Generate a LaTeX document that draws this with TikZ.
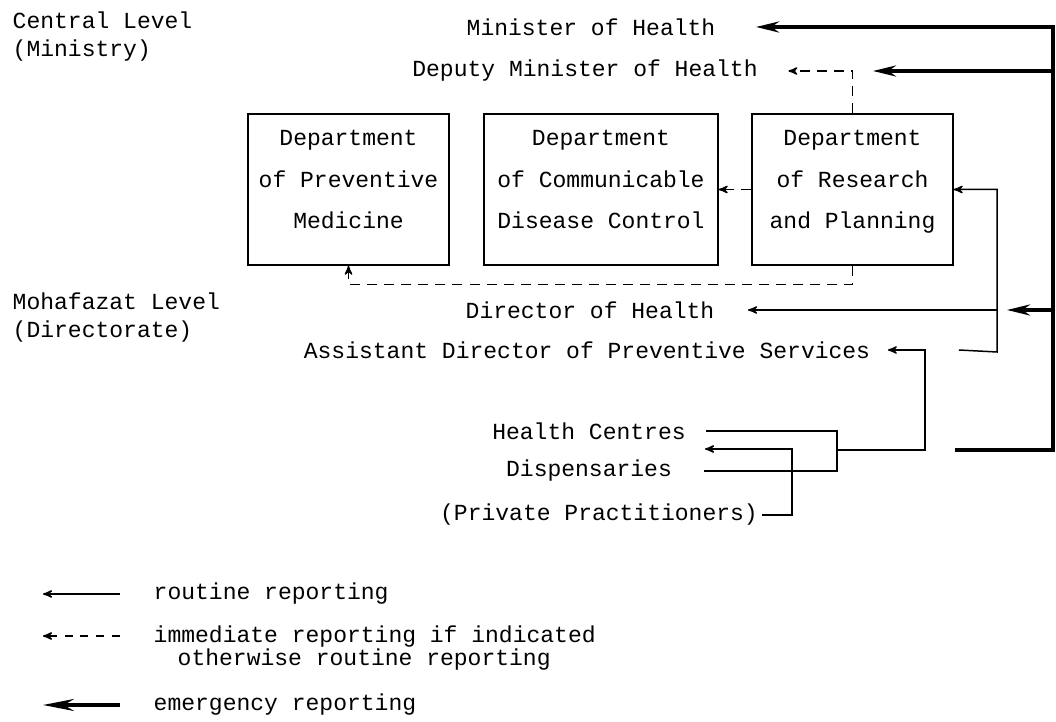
\documentclass[tikz,border=0pt]{standalone}
\usepackage{fontspec}
\setmainfont{Liberation Mono}
\usetikzlibrary{arrows,arrows.meta,positioning}

\begin{document}
\begin{tikzpicture}[x=0.02cm, y=-0.02cm, >=stealth', line width=0.85pt,
    every node/.style={font=\fontsize{13.1}{15.9}\selectfont},
    txt/.style={inner sep=0pt},
    dept/.style={draw, minimum width=4.02cm, minimum height=3.02cm, align=center,
        inner sep=0pt, text depth=0.4cm, font=\fontsize{13.1}{23.8}\selectfont},
    routine/.style={->},
    immed/.style={->, dash pattern=on 5.7pt off 4pt},
    emerg/.style={line width=2pt, -{Stealth[length=0.46cm,width=0.22cm]}}]
    \useasboundingbox (0,0) rectangle (1056,722);

    % Levels
    \node [txt, anchor=west, align=left] (central)   at (12,37)  {Central Level\\(Ministry)};
    \node [txt, anchor=west, align=left] (mohafazat) at (12,318) {Mohafazat Level\\(Directorate)};

    % Nodes {minister, deputy, departments, director, ...}
    \node [txt]  (minister)     at (591,27)      {Minister of Health};
    \node [txt]  (deputy)       at (585,71)      {Deputy Minister of Health};
    \node [dept] (prev)         at (348.5,189.5) {Department\\of Preventive\\Medicine};
    \node [dept, minimum width=4.68cm] (comm) at (601,189.5) {Department\\of Communicable\\Disease Control};
    \node [dept] (res)          at (852.5,189.5) {Department\\of Research\\and Planning};
    \node [txt]  (director)     at (590,310)     {Director of Health};
    \node [txt]  (assistant)    at (587,350)     {Assistant Director of Preventive Services};
    \node [txt]  (centres)      at (589,431)     {Health Centres};
    \node [txt]  (dispensaries) at (589,471)     {Dispensaries};
    \node [txt]  (private)      at (599,515)     {(Private Practitioners)};

    % Junctions
    \coordinate (jr)    at (997,352);
    \coordinate (jl)    at (837,450);
    \coordinate (ja)    at (925,450);
    \coordinate (jp)    at (792,515);
    \coordinate (pend)  at (705,449);
    \coordinate (esrc)  at (955,450);
    \coordinate (eline) at (1053,450);

    % Paths: routine reporting
    \draw [routine] ([xshift=1.76cm]assistant.east) -- (jr) |- (res.east);
    \draw [routine] (jr |- director.east) -- ([xshift=0.66cm]director.east);
    \draw ([xshift=0.4cm]centres.east) -| (jl) |- ([xshift=0.62cm]dispensaries.east);
    \draw [routine] (jl) -- (ja) |- ([xshift=0.34cm]assistant.east);
    \draw [routine] ([xshift=0.06cm]private.east) -- (jp) |- (pend);

    % Paths: immediate reporting
    \draw [immed] (res.north) |- ([xshift=0.6cm]deputy.east);
    \draw [immed] (res.west) -- (comm.east);
    \draw [immed] (res.south) -- ++(0,19) -| (prev.south);

    % Paths: emergency reporting
    \draw [emerg] (esrc) -- (eline) |- ([xshift=0.8cm]minister.east);
    \draw [emerg] (eline |- deputy.east) -- ++(-180,0);
    \draw [emerg] (eline |- director.east) -- ++(-46,0);

    % Legend
    \node [txt, anchor=west] (lroutine) at (153,594) {routine reporting};
    \node [txt, anchor=west, align=left, font=\fontsize{13.1}{13.6}\selectfont] (limmed) at (153,648)
        {immediate reporting if indicated\\\hspace*{0.48cm}otherwise routine reporting};
    \node [txt, anchor=west] (lemerg) at (153,705) {emergency reporting};
    \draw [routine] ([xshift=-0.66cm]lroutine.west) -- ++(-77,0);
    \draw [immed, dash pattern=on 4.5pt off 4.5pt] ([xshift=-0.66cm,yshift=0.24cm]limmed.west) -- ++(-77,0);
    \draw [emerg, -{Stealth[length=0.62cm,width=0.24cm]}] ([xshift=-0.66cm]lemerg.west) -- ++(-77,0);
\end{tikzpicture}
\end{document}
